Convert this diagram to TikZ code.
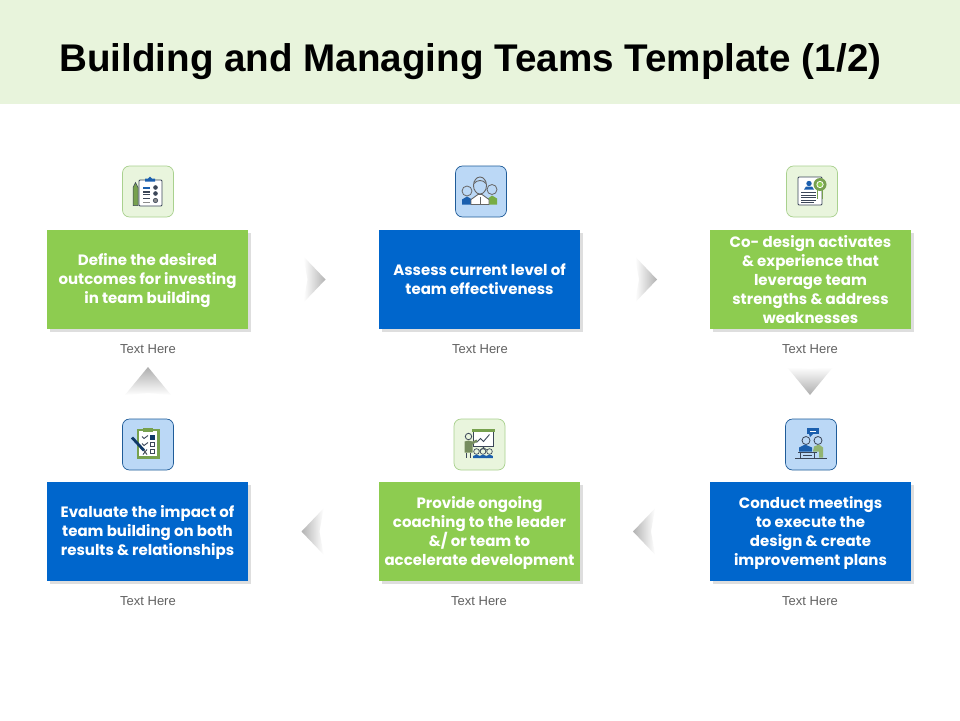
\documentclass[tikz,border=0pt]{standalone}
\usepackage{fontspec}
\setmainfont{Liberation Sans}
\newfontfamily\boxfont{Poppins}
\usetikzlibrary{shadows,calc}
\definecolor{bandgreen}{HTML}{E8F4DC}
\definecolor{boxgreen}{HTML}{8DCC50}
\definecolor{boxblue}{HTML}{0066CC}
\definecolor{icgreenfill}{HTML}{E9F5DD}
\definecolor{icgreenline}{HTML}{A9D18E}
\definecolor{icbluefill}{HTML}{BBD8F6}
\definecolor{icblueline}{HTML}{1F5C99}
\definecolor{inkdark}{HTML}{3B4658}
\definecolor{inkgreen}{HTML}{77A14E}
\definecolor{inkblue}{HTML}{1B5FAE}
\newcommand{\lifttext}{\rule{0pt}{14pt}}
\tikzset{
  stepbox/.style={minimum width=201pt,minimum height=99pt,inner sep=0pt,text=white,align=center,
    font=\boxfont\bfseries\fontsize{15}{19}\selectfont,
    copy shadow={shadow xshift=2.5pt,shadow yshift=-2.5pt,draw=none,fill=black!13,opacity=1}},
  greenbox/.style={stepbox,fill=boxgreen},
  bluebox/.style={stepbox,fill=boxblue},
  iconbox/.style={minimum width=51pt,minimum height=51pt,inner sep=0pt,rounded corners=7pt,line width=.7pt},
  icongreen/.style={iconbox,draw=icgreenline,fill=icgreenfill},
  iconblue/.style={iconbox,draw=icblueline,fill=icbluefill},
  caption/.style={font=\fontsize{13}{15}\selectfont,text=black!62,inner sep=0pt},
  ink/.style={draw=inkdark,line width=.9pt},
}
\newcommand{\chevR}[1]{\shade[left color=white,right color=black!30,shift={(#1)}] (-10,-23)--(12,0)--(-10,23)--(-6,0)--cycle;}
\newcommand{\chevL}[1]{\shade[right color=white,left color=black!30,shift={(#1)}] (10,-23)--(-12,0)--(10,23)--(6,0)--cycle;}
\newcommand{\chevD}[1]{\shade[top color=white,bottom color=black!32,shift={(#1)}] (-23,-14)--(0,14)--(23,-14)--(0,-12)--cycle;}
\newcommand{\chevU}[1]{\shade[bottom color=white,top color=black!32,shift={(#1)}] (-23,14)--(0,-14)--(23,14)--(0,12)--cycle;}
\begin{document}
\begin{tikzpicture}[x=1pt,y=-1pt]
\useasboundingbox (0,0) rectangle (960,720);
\fill[white] (0,0) rectangle (960,720);
\fill[bandgreen] (0,0) rectangle (960,104);
\node[anchor=west,inner sep=0pt,font=\bfseries\fontsize{38.6}{42}\selectfont,text=black] (title) at (59,61.5) {Building and Managing Teams Template (1/2)};

% step boxes
\node[greenbox] (s1) at (147.5,279.5) {\lifttext Define the desired\\outcomes for investing\\in team building};
\node[bluebox]  (s2) at (479.5,279.5) {Assess current level of\\team effectiveness};
\node[greenbox] (s3) at (810.5,279.5) {Co- design activates\\\&{} experience that\\leverage team\\strengths \&{} address\\weaknesses};
\node[bluebox]  (s4) at (810.5,531.5) {\lifttext Conduct meetings\\to execute the\\design \&{} create\\improvement plans};
\node[greenbox] (s5) at (479.5,531.5) {\lifttext Provide ongoing\\coaching to the leader\\\&/ or team to\\accelerate development};
\node[bluebox]  (s6) at (147.5,531.5) {\lifttext Evaluate the impact of\\team building on both\\results \&{} relationships};

% captions
\node[caption] (c1) at (148,349.5) {Text Here};
\node[caption] (c2) at (480,349.5) {Text Here};
\node[caption] (c3) at (810,349.5) {Text Here};
\node[caption] (c4) at (810,601.5) {Text Here};
\node[caption] (c5) at (479,601.5) {Text Here};
\node[caption] (c6) at (148,601.5) {Text Here};

% chevrons
\coordinate (a12) at ($(s1)!.5!(s2)$);
\coordinate (a23) at ($(s2)!.5!(s3)$);
\coordinate (a45) at ($(s4)!.5!(s5)$);
\coordinate (a56) at ($(s5)!.5!(s6)$);
\coordinate (a34) at (810,381);
\coordinate (a61) at (148,381);
\chevR{a12}\chevR{a23}\chevL{a45}\chevL{a56}\chevD{a34}\chevU{a61}

% icon boxes
\node[icongreen] (i1) at (148,191.5) {};
\node[iconblue]  (i2) at (481,191.5) {};
\node[icongreen] (i3) at (812,191.5) {};
\node[iconblue]  (i4) at (811,444.5) {};
\node[icongreen] (i5) at (479.5,444.5) {};
\node[iconblue]  (i6) at (148,444.5) {};

% icon 1: clipboard and pencil
\begin{scope}[shift={(i1)}]
  \draw[ink,fill=white,rounded corners=1pt] (-9,-11.5) rectangle (14,14.5);
  \fill[inkblue] (-3,-11)--(-3,-13)--(0,-13)--(2,-15)--(4,-13)--(7,-13)--(7,-10)--(-3,-10)--cycle;
  \fill[inkgreen,draw=inkdark,line width=.5pt] (-15,-4)--(-12.5,-9)--(-10,-4)--(-10,14)--(-15,14)--cycle;
  \draw[inkblue,line width=1.6pt] (-5,-3.5)--(2,-3.5);
  \draw[inkdark,line width=1.3pt] (-5,.5)--(2,.5) (-5,3)--(2,3);
  \draw[inkdark,line width=.9pt] (-5,7)--(2,7);
  \draw[black!45,line width=.8pt] (-5,11)--(2,11);
  \fill[inkdark] (7.5,-4) circle (2.3) (7.5,2) circle (2.3);
  \draw[inkdark,fill=black!45,line width=.6pt] (7.5,9) circle (2.2);
\end{scope}

% icon 2: three people
\begin{scope}[shift={(i2)}]
  \fill[inkblue] (-19,13)--(-19,8)--(-14,5)--(-9,8)--(-9,13)--cycle;
  \fill[boxgreen!85!black] (7,13)--(7,7)--(11,4)--(16,7)--(16,13)--cycle;
  \draw[black!60,fill=icbluefill,line width=.8pt] (-14,-.5) circle (5);
  \draw[black!60,fill=icbluefill,line width=.8pt] (11,-2) circle (5);
  \draw[black!60,line width=.9pt,fill=white] (-10,13)--(-10,8)--(-3,3)--(1,3)--(8,8)--(8,13)--cycle;
  \draw[black!60,fill=icbluefill,line width=.9pt] (-1,-6) ellipse (6.5 and 8.5);
  \draw[black!60,line width=.7pt] (-1,5)--(-1,13);
  \draw[black!60,line width=.9pt] (-7,-8) .. controls (-4,-12) and (2,-12) .. (5,-8);
\end{scope}

% icon 3: document with seal
\begin{scope}[shift={(i3)}]
  \draw[ink,fill=white,rounded corners=1pt] (-14,-14.5) rectangle (10,13.5);
  \fill[inkblue] (-3,-8) circle (2.7);
  \fill[inkblue] (-8,-2)--(-6,-5)--(0,-5)--(2,-2)--cycle;
  \draw[inkdark,line width=.8pt] (-11,1)--(4,1) (-11,3.5)--(4,3.5) (-11,6)--(4,6) (-11,8.5)--(4,8.5) (-11,11)--(2,11);
  \draw[inkgreen,line width=.9pt] (5.5,-2)--(5.5,7) (10,-2)--(10,7);
  \fill[inkgreen] (8,-7) circle (6.5);
  \fill[white] (8,-7) circle (3.6);
  \fill[boxgreen] (8,-7) circle (2.6);
\end{scope}

% icon 4: meeting
\begin{scope}[shift={(i4)}]
  \fill[inkblue] (-4,-16.5) rectangle (8,-10.5);
  \fill[inkblue] (-2,-10.5)--(2,-10.5)--(-1,-7.5)--cycle;
  \draw[white,line width=.7pt] (-1,-13.5)--(5,-13.5);
  \draw[inkdark,fill=icbluefill,line width=.8pt] (-5,-4) circle (4);
  \draw[inkdark,fill=icbluefill,line width=.8pt] (7,-4) circle (4);
  \fill[inkblue] (-12,7)--(-12,3)--(-6,0)--(1,3)--(1,7)--cycle;
  \fill[inkgreen!80!white] (2,7)--(3,2)--(8,0)--(12,3)--(12,13)--(8,13)--(8,7)--cycle;
  \draw[inkdark,line width=.8pt] (-16,13.5)--(16,13.5) (-13,7.5)--(6,7.5) (-11,7.5)--(-11,13.5) (3,7.5)--(3,13.5);
  \draw[inkdark,line width=.8pt] (-8,11)--(1,11);
\end{scope}

% icon 5: presentation
\begin{scope}[shift={(i5)}]
  \draw[inkdark,fill=white,line width=.8pt] (-6,-14) rectangle (14,2);
  \fill[inkgreen] (-7.5,-15.5) rectangle (15.5,-13);
  \draw[inkdark,line width=.9pt] (-3,-2)--(1,-6)--(4,-3)--(10,-10);
  \draw[inkdark,line width=.7pt] (4,2)--(4,6) (0,6)--(4,3)--(8,6);
  \draw[inkdark,fill=icgreenfill,line width=.8pt] (-11,-8) circle (3.2);
  \fill[inkgreen!70!black!80!white] (-15,8)--(-15,-3)--(-11,-4)--(-7,-3)--(-3,-5)--(-2,-3)--(-7,0)--(-7,8)--cycle;
  \draw[inkdark,line width=.9pt] (-13.5,8)--(-13.5,13) (-9,8)--(-9,13);
  \foreach \px in {-3,3.5,10}{
    \draw[inkdark,fill=icgreenfill,line width=.7pt] (\px,7) circle (2.8);
    \fill[inkblue] (\px-3.4,13.5)--(\px-3.4,11.5)--(\px,10)--(\px+3.4,11.5)--(\px+3.4,13.5)--cycle;
  }
\end{scope}

% icon 6: checklist and pen
\begin{scope}[shift={(i6)}]
  \draw[inkgreen,fill=white,line width=2.2pt] (-10,-14.5) rectangle (10.5,13);
  \fill[inkgreen] (-5,-17) rectangle (5,-13);
  \draw[inkdark,line width=.9pt] (-6,-8)--(-4,-6)--(0,-9) (-6,-1)--(-4,1)--(0,-2) (-5,5)--(-1,10) (-1,5)--(-5,10);
  \fill[inkblue!60!black] (2,-9.5) rectangle (7,-4.5);
  \draw[inkdark,line width=.9pt] (2.5,-2.5) rectangle (6.5,1.5) (2.5,5) rectangle (6.5,9);
  \draw[inkblue!60!black,line width=2.8pt] (-16,-7)--(-4,6);
  \draw[black!60,line width=.8pt] (-4,6)--(-1.5,9);
\end{scope}
\end{tikzpicture}
\end{document}
